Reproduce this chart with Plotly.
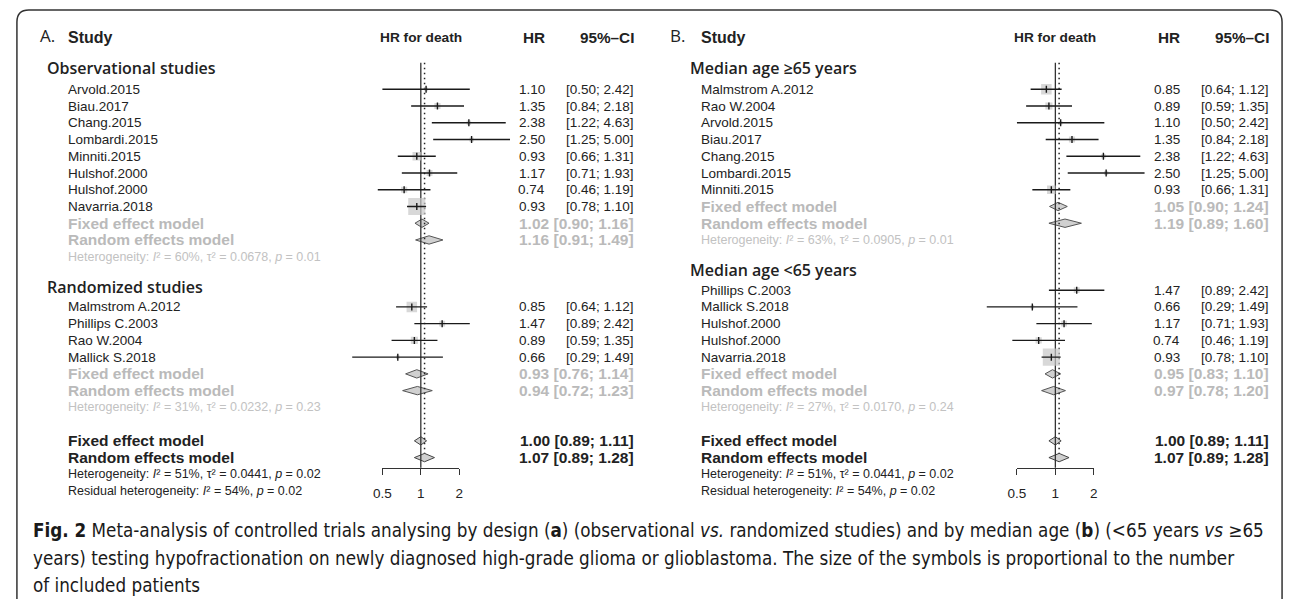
import math
import plotly.graph_objects as go

W, H = 1292, 599

# ---------------- data ----------------
# Panel A: by design
A_obs_study = ["Arvold.2015", "Biau.2017", "Chang.2015", "Lombardi.2015",
               "Minniti.2015", "Hulshof.2000", "Hulshof.2000", "Navarria.2018"]
A_obs_hr = [1.10, 1.35, 2.38, 2.50, 0.93, 1.17, 0.74, 0.93]
A_obs_lo = [0.50, 0.84, 1.22, 1.25, 0.66, 0.71, 0.46, 0.78]
A_obs_hi = [2.42, 2.18, 4.63, 5.00, 1.31, 1.93, 1.19, 1.10]
A_obs_fixed = [1.02, 0.90, 1.16]
A_obs_random = [1.16, 0.91, 1.49]
A_obs_het = [60, 0.0678, 0.01]

A_rct_study = ["Malmstrom A.2012", "Phillips C.2003", "Rao W.2004", "Mallick S.2018"]
A_rct_hr = [0.85, 1.47, 0.89, 0.66]
A_rct_lo = [0.64, 0.89, 0.59, 0.29]
A_rct_hi = [1.12, 2.42, 1.35, 1.49]
A_rct_fixed = [0.93, 0.76, 1.14]
A_rct_random = [0.94, 0.72, 1.23]
A_rct_het = [31, 0.0232, 0.23]

# Panel B: by median age
B_old_study = ["Malmstrom A.2012", "Rao W.2004", "Arvold.2015", "Biau.2017",
               "Chang.2015", "Lombardi.2015", "Minniti.2015"]
B_old_hr = [0.85, 0.89, 1.10, 1.35, 2.38, 2.50, 0.93]
B_old_lo = [0.64, 0.59, 0.50, 0.84, 1.22, 1.25, 0.66]
B_old_hi = [1.12, 1.35, 2.42, 2.18, 4.63, 5.00, 1.31]
B_old_fixed = [1.05, 0.90, 1.24]
B_old_random = [1.19, 0.89, 1.60]
B_old_het = [63, 0.0905, 0.01]

B_young_study = ["Phillips C.2003", "Mallick S.2018", "Hulshof.2000", "Hulshof.2000", "Navarria.2018"]
B_young_hr = [1.47, 0.66, 1.17, 0.74, 0.93]
B_young_lo = [0.89, 0.29, 0.71, 0.46, 0.78]
B_young_hi = [2.42, 1.49, 1.93, 1.19, 1.10]
B_young_fixed = [0.95, 0.83, 1.10]
B_young_random = [0.97, 0.78, 1.20]
B_young_het = [27, 0.0170, 0.24]

overall_fixed = [1.00, 0.89, 1.11]
overall_random = [1.07, 0.89, 1.28]
overall_het = [51, 0.0441, 0.02]
residual_het = [54, 0.02]

axis_ticks = [0.5, 1, 2]
null_value = 1

# ---------------- layout constants (pixels) ----------------
Y0, PITCH = 89.3, 16.74          # pixel y of row 0, row pitch
PPD = 38.8                       # pixels per doubling of HR
AXIS_PY = 467.7                  # pixel y of the HR axis line
LINE_TOP_ROW = -1.59
TITLE_ROW = -3.12
LETTER_ROW = -3.24
DIAMOND_H = 0.25
SQ_K = 1.5

TXT = "#222222"
GRAY = "#bababa"
GRAY_HET = "#c2c2c2"
SANS = "Liberation Sans, Arial, Helvetica, sans-serif"
HUMAN = "Open Sans, Noto Sans, sans-serif"

fig = go.Figure()
annotations = []


def add_text(x_px, row, text, size, color=TXT, anchor="left", bold=False,
             family=SANS, weight=None):
    annotations.append(dict(
        x=x_px / W, xref="paper", y=row, yref="y", text=text, showarrow=False,
        xanchor=anchor, yanchor="middle",
        font=dict(size=size, color=color, family=family,
                  weight=(weight if weight is not None else (700 if bold else 400))),
    ))


def het_text(het, with_tau=True):
    if with_tau:
        return ("Heterogeneity: <i>I</i>\u00b2 = %d%%, \u03c4\u00b2 = %.4f, <i>p</i> = %.2f"
                % (het[0], het[1], het[2]))
    return ("Residual heterogeneity: <i>I</i>\u00b2 = %d%%, <i>p</i> = %.2f" % (het[0], het[1]))


def diamond(xa, est, row, color_line="#555555"):
    m, lo, hi = est
    fig.add_trace(go.Scatter(
        x=[lo, m, hi, m, lo], y=[row, row - DIAMOND_H, row, row + DIAMOND_H, row],
        xaxis=xa, yaxis="y", mode="lines", fill="toself", fillcolor="#d0d0d0",
        line=dict(color=color_line, width=1), hoverinfo="skip", showlegend=False))


panels = [
    dict(letter="A.", xa="x", one_px=416, letter_px=29, name_px=58, head_px=36,
         hr_px=543, ci_px=633,
         groups=[("Observational studies", A_obs_study, A_obs_hr, A_obs_lo, A_obs_hi,
                  A_obs_fixed, A_obs_random, A_obs_het),
                 ("Randomized studies", A_rct_study, A_rct_hr, A_rct_lo, A_rct_hi,
                  A_rct_fixed, A_rct_random, A_rct_het)]),
    dict(letter="B.", xa="x2", one_px=1057, letter_px=666, name_px=697, head_px=686,
         hr_px=1185, ci_px=1275,
         groups=[("Median age \u226565 years", B_old_study, B_old_hr, B_old_lo, B_old_hi,
                  B_old_fixed, B_old_random, B_old_het),
                 ("Median age &lt;65 years", B_young_study, B_young_hr, B_young_lo, B_young_hi,
                  B_young_fixed, B_young_random, B_young_het)]),
]

L2 = math.log10(2)
layout_axes = {}

for pi, P in enumerate(panels):
    xa = P["xa"]
    one = P["one_px"]
    # data axis (invisible), log scale
    p0, p1 = one - 120, one + 115
    ax_name = "xaxis" if xa == "x" else "xaxis2"
    layout_axes[ax_name] = dict(
        type="log", domain=[p0 / W, p1 / W],
        range=[L2 * (p0 - one) / PPD, L2 * (p1 - one) / PPD],
        visible=False, anchor="y")
    # tick axis spanning 0.5 .. 2
    tick_name = "xaxis%d" % (3 + pi)
    tick_id = "x%d" % (3 + pi)
    layout_axes[tick_name] = dict(
        type="log",
        domain=[(one + PPD * math.log2(axis_ticks[0])) / W, (one + PPD * math.log2(axis_ticks[-1])) / W],
        range=[math.log10(axis_ticks[0]), math.log10(axis_ticks[-1])],
        anchor="free", position=1 - AXIS_PY / H,
        showline=True, linecolor="#333333", linewidth=1.3,
        ticks="outside", ticklen=6, tickwidth=1.3, tickcolor="#333333",
        tickmode="array", tickvals=axis_ticks, ticktext=[("%g" % t) for t in axis_ticks],
        tickfont=dict(size=13.5, color=TXT, family=SANS),
        ticklabelstandoff=7,
        showgrid=False, zeroline=False, fixedrange=True)
    fig.add_trace(go.Scatter(x=[null_value], y=[0], xaxis=tick_id, yaxis="y", mode="markers",
                             marker=dict(opacity=0), hoverinfo="skip", showlegend=False))

    # headers
    add_text(P["letter_px"], LETTER_ROW, P["letter"], 17, family=HUMAN)
    add_text(P["name_px"], TITLE_ROW, "Study", 16, bold=True)
    add_text(one, TITLE_ROW, "HR for death", 13.7, bold=True, anchor="center")
    add_text(P["hr_px"], TITLE_ROW, "HR", 15.3, bold=True, anchor="right")
    add_text(P["ci_px"], TITLE_ROW, "95%\u2013CI", 15.3, bold=True, anchor="right")

    row = 0
    line_x, line_y = [], []
    sq_x, sq_y, sq_s = [], [], []
    for gi, (label, studies, hr, lo, hi, fixed, random_, het) in enumerate(P["groups"]):
        if gi > 0:
            row += 3          # heterogeneity row, blank row, header row
        add_text(P["head_px"], row - 1 - (0.3 if gi == 0 else 0.2), label, 16,
                 family=HUMAN, weight=600)
        for s, m, l, h in zip(studies, hr, lo, hi):
            add_text(P["name_px"], row, s, 13.5)
            add_text(P["hr_px"], row, "%.2f" % m, 13.5, anchor="right")
            add_text(P["ci_px"], row, "[%.2f; %.2f]" % (l, h), 13.5, anchor="right")
            line_x += [l, h, None]
            line_y += [row, row, None]
            se = (math.log(h) - math.log(l)) / (2 * 1.959964)
            sq_x.append(m)
            sq_y.append(row)
            sq_s.append(SQ_K * math.sqrt(1 / se ** 2))
            row += 1
        for est, name in ((fixed, "Fixed effect model"), (random_, "Random effects model")):
            add_text(P["name_px"], row, name, 15.5, color=GRAY, bold=True)
            add_text(P["ci_px"], row, "%.2f [%.2f; %.2f]" % tuple(est), 15.5, color=GRAY,
                     bold=True, anchor="right")
            diamond(xa, est, row)
            row += 1
        add_text(P["name_px"], row, het_text(het), 12.5, color=GRAY_HET)
    # overall
    row += 2
    for est, name in ((overall_fixed, "Fixed effect model"), (overall_random, "Random effects model")):
        add_text(P["name_px"], row, name, 15.5, bold=True)
        add_text(P["ci_px"], row, "%.2f [%.2f; %.2f]" % tuple(est), 15.5, bold=True, anchor="right")
        diamond(xa, est, row, color_line="#444444")
        row += 1
    rand_row = row - 1
    add_text(P["name_px"], row, het_text(overall_het), 12.5)
    add_text(P["name_px"], row + 1, het_text(residual_het, with_tau=False), 12.5)

    axis_row = (AXIS_PY - Y0) / PITCH
    # reference line at HR = 1
    fig.add_trace(go.Scatter(x=[null_value, null_value], y=[LINE_TOP_ROW, axis_row], xaxis=xa, yaxis="y",
                             mode="lines", line=dict(color="#333333", width=1.3),
                             hoverinfo="skip", showlegend=False))
    # dotted line at random effects overall estimate
    fig.add_trace(go.Scatter(x=[overall_random[0]] * 2, y=[LINE_TOP_ROW, rand_row - DIAMOND_H],
                             xaxis=xa, yaxis="y", mode="lines",
                             line=dict(color="#222222", width=1.5, dash="1.5px,3.5px"),
                             hoverinfo="skip", showlegend=False))
    # squares
    fig.add_trace(go.Scatter(x=sq_x, y=sq_y, xaxis=xa, yaxis="y", mode="markers",
                             marker=dict(symbol="square", size=sq_s, color="#c8c8c8", line=dict(width=0)),
                             hoverinfo="skip", showlegend=False))
    # CI lines
    fig.add_trace(go.Scatter(x=line_x, y=line_y, xaxis=xa, yaxis="y", mode="lines",
                             line=dict(color="#1a1a1a", width=1.4), hoverinfo="skip", showlegend=False))
    # point estimate ticks
    fig.add_trace(go.Scatter(x=sq_x, y=sq_y, xaxis=xa, yaxis="y", mode="markers",
                             marker=dict(symbol="line-ns", size=5, line=dict(color="#1a1a1a", width=1.4)),
                             hoverinfo="skip", showlegend=False))

# caption
CAP = "DejaVu Sans Condensed, Liberation Sans Narrow, Arial Narrow, sans-serif"
cap_lines = [
    "<b>Fig. 2</b> Meta-analysis of controlled trials analysing by design (<b>a</b>) (observational <i>vs.</i> "
    "randomized studies) and by median age (<b>b</b>) (&lt;65 years <i>vs</i> \u226565",
    "years) testing hypofractionation on newly diagnosed high-grade glioma or glioblastoma. "
    "The size of the symbols is proportional to the number",
    "of included patients",
]
for t, py in zip(cap_lines, [530, 558, 585]):
    annotations.append(dict(x=22 / W, xref="paper", y=1 - py / H, yref="paper", text=t,
                            showarrow=False, xanchor="left", yanchor="middle",
                            font=dict(size=18.7, color="#1a1a1a", family=CAP)))

# rounded border
x0, x1 = 8 / W, 1286 / W
yt, yb = 1 - 10 / H, -0.05
rx, ry = 12 / W, 12 / H
border = ("M %f,%f L %f,%f Q %f,%f %f,%f L %f,%f Q %f,%f %f,%f L %f,%f"
          % (x0, yb, x0, yt - ry, x0, yt, x0 + rx, yt, x1 - rx, yt, x1, yt, x1, yt - ry, x1, yb))

fig.update_layout(
    width=W, height=H, margin=dict(l=0, r=0, t=0, b=0),
    paper_bgcolor="white", plot_bgcolor="rgba(0,0,0,0)",
    showlegend=False,
    yaxis=dict(range=[(H - Y0) / PITCH, -Y0 / PITCH], domain=[0, 1], visible=False, fixedrange=True),
    annotations=annotations,
    shapes=[dict(type="path", path=border, xref="paper", yref="paper",
                 line=dict(color="#333333", width=1.5))],
    **layout_axes,
)

fig.write_html("out.html")
